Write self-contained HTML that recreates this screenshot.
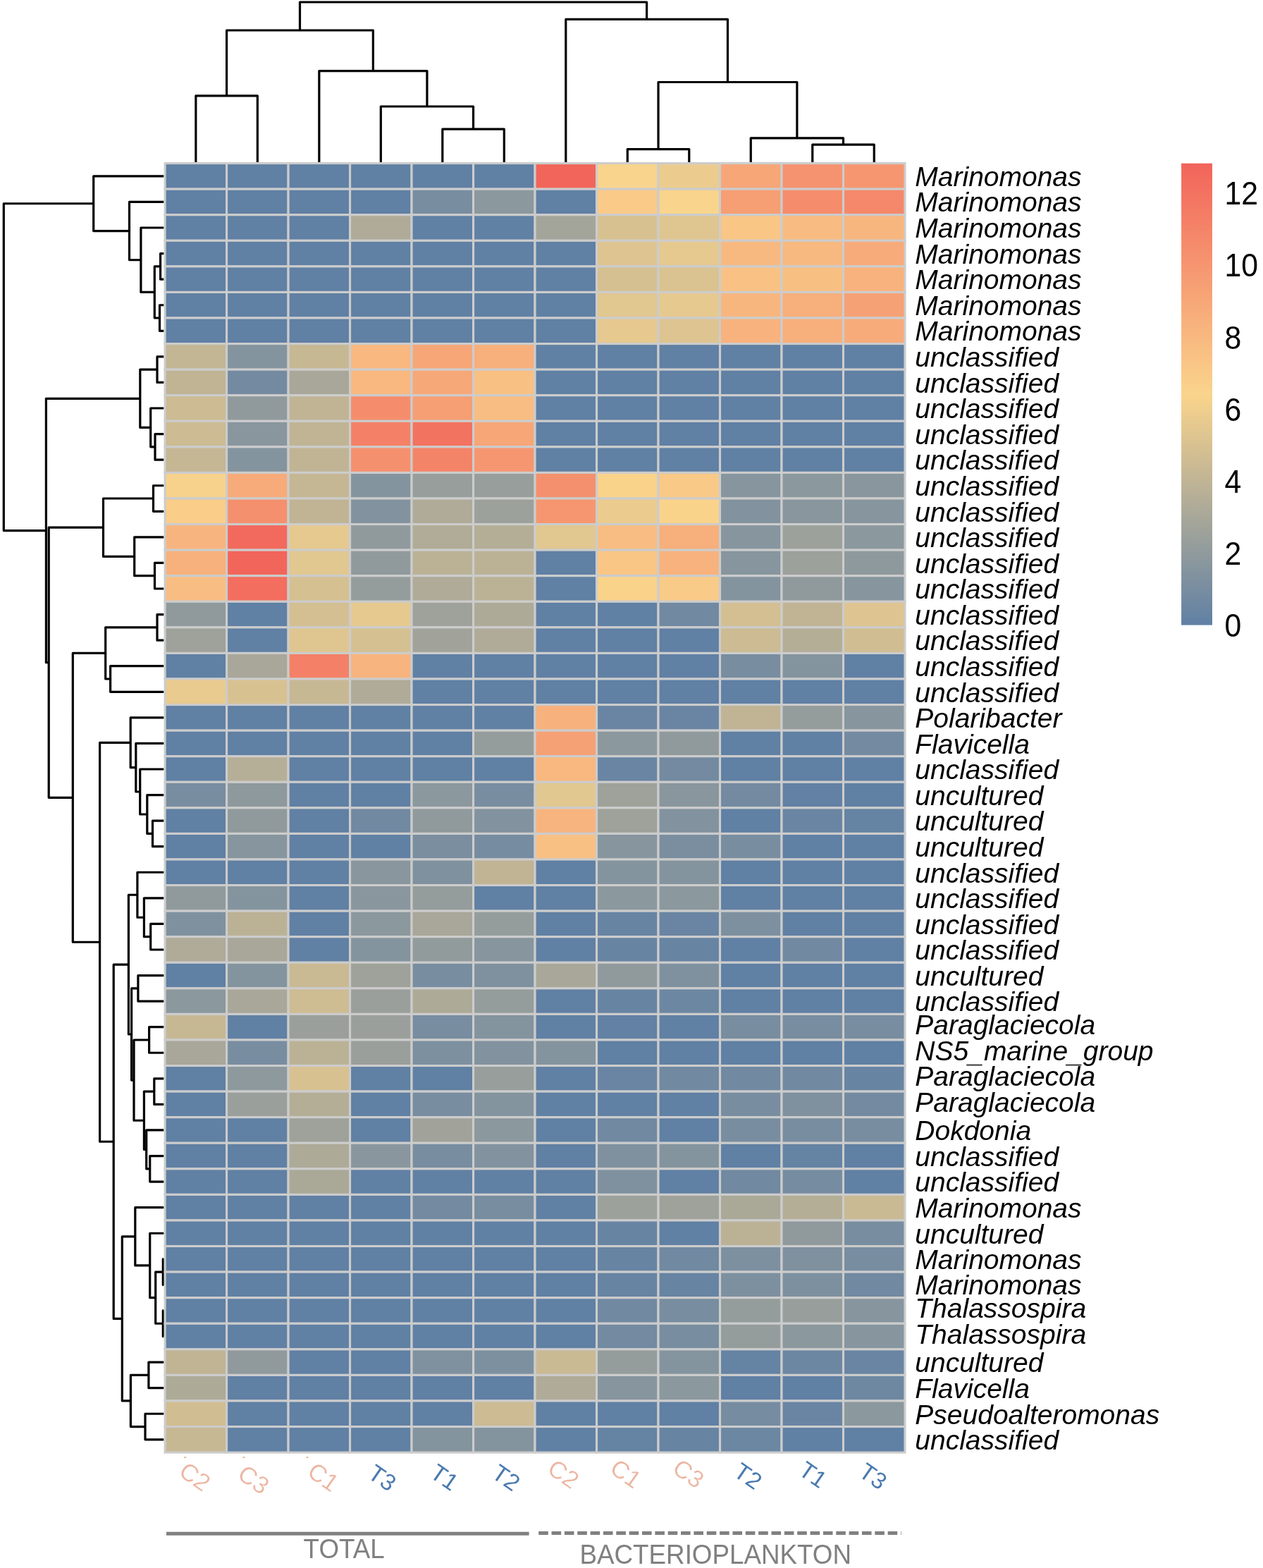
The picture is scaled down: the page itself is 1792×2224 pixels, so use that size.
<!DOCTYPE html>
<html lang="en">
<head>
<meta charset="utf-8">
<title>Heatmap</title>
<style>
html,body{margin:0;padding:0;background:#fff}
body{width:1792px;height:2224px;overflow:hidden}
svg{display:block}
text{font-family:"Liberation Sans",sans-serif}
.rl{font-style:italic;font-size:39px;fill:#000}
.lg{font-size:46px;fill:#000}
.cl{font-size:34.5px;text-anchor:middle}
.gl{font-size:38.2px;fill:#808080}
</style>
</head>
<body>
<svg width="1792" height="2224" viewBox="0 0 1792 2224">
<rect width="1792" height="2224" fill="#fff"/>
<defs><linearGradient id="cb" x1="0" y1="1" x2="0" y2="0"><stop offset="0" stop-color="#6080a4"/><stop offset="0.5" stop-color="#fad48c"/><stop offset="1" stop-color="#f2645a"/></linearGradient></defs>
<g fill="none" stroke="#000" stroke-width="3.2" stroke-linejoin="round" stroke-linecap="butt">
<path d="M277.85 230.40V135.80H365.34V230.40M627.81 230.40V183.20H715.30V230.40M540.32 230.40V151.00H671.56V183.20M452.83 230.40V100.60H605.94V151.00M321.59 135.80V43.00H529.38V100.60M890.29 230.40V211.60H977.78V230.40M1152.76 230.40V205.20H1240.25V230.40M1065.27 230.40V195.80H1196.51V205.20M934.03 211.60V116.50H1130.89V195.80M802.80 230.40V27.40H1032.46V116.50M425.49 43.00V3.00H917.63V27.40"/>
<path d="M232.40 359.60H227.60V396.16H232.40M232.40 432.74H226.50V469.31H232.40M227.60 377.88H219.30V451.02H226.50M232.40 323.02H199.90V414.45H219.30M232.40 286.45H183.50V368.74H199.90M232.40 249.88H132.70V327.60H183.50M232.40 505.88H223.00V542.45H232.40M232.40 615.59H220.00V652.15H232.40M232.40 579.01H213.70V633.87H220.00M223.00 524.16H198.80V606.44H213.70M232.40 688.73H217.50V725.29H232.40M232.40 798.44H219.50V835.00H232.40M232.40 761.87H190.70V816.72H219.50M217.50 707.01H146.50V789.29H190.70M232.40 871.58H223.00V908.14H232.40M232.40 944.72H156.60V981.29H232.40M223.00 889.86H149.70V963.00H156.60M232.40 1164.13H216.50V1200.70H232.40M232.40 1127.57H208.80V1182.42H216.50M232.40 1090.99H198.70V1154.99H208.80M232.40 1054.42H192.80V1122.99H198.70M232.40 1017.86H185.20V1088.71H192.80M232.40 1310.41H213.70V1346.98H232.40M232.40 1273.85H204.40V1328.70H213.70M232.40 1237.27H194.90V1301.27H204.40M232.40 1383.55H195.90V1420.12H232.40M232.40 1456.69H211.60V1493.26H232.40M232.40 1529.83H218.80V1566.40H232.40M232.40 1639.54H212.70V1676.12H232.40M232.40 1602.97H207.70V1657.83H212.70M218.80 1548.12H204.40V1630.40H207.70M211.60 1474.98H190.00V1589.26H204.40M195.90 1401.84H186.60V1532.12H190.00M194.90 1269.27H182.40V1466.98H186.60M232.40 1785.82H231.30V1822.39H232.40M232.40 1858.96H231.30V1895.53H232.40M231.30 1804.11H220.70V1877.25H231.30M232.40 1749.25H212.70V1840.68H220.70M232.40 1712.68H191.80V1794.97H212.70M232.40 1932.11H210.90V1968.67H232.40M232.40 2005.24H206.00V2041.81H232.40M210.90 1950.39H185.40V2023.53H206.00M191.80 1753.83H173.30V1986.96H185.40M182.40 1368.13H161.20V1870.39H173.30M185.20 1053.28H141.60V1619.26H161.20M149.70 926.43H103.30V1336.27H141.60M146.50 748.15H69.20V1131.35H103.30M198.80 565.30H65.40V939.75H69.20M132.70 288.74H5.30V752.53H65.40"/>
</g>
<g stroke="#cccccc" stroke-width="3.1">
<rect x="234.10" y="231.60" width="87.49" height="36.57" fill="#6080a4"/><rect x="321.59" y="231.60" width="87.49" height="36.57" fill="#6080a4"/><rect x="409.08" y="231.60" width="87.49" height="36.57" fill="#6080a4"/><rect x="496.58" y="231.60" width="87.49" height="36.57" fill="#6080a4"/><rect x="584.07" y="231.60" width="87.49" height="36.57" fill="#6080a4"/><rect x="671.56" y="231.60" width="87.49" height="36.57" fill="#6080a4"/><rect x="759.05" y="231.60" width="87.49" height="36.57" fill="#f2655a"/><rect x="846.54" y="231.60" width="87.49" height="36.57" fill="#f9d48c"/><rect x="934.03" y="231.60" width="87.49" height="36.57" fill="#ebcc8e"/><rect x="1021.53" y="231.60" width="87.49" height="36.57" fill="#f7a678"/><rect x="1109.02" y="231.60" width="87.49" height="36.57" fill="#f5926f"/><rect x="1196.51" y="231.60" width="87.49" height="36.57" fill="#f69670"/>
<rect x="234.10" y="268.17" width="87.49" height="36.57" fill="#6080a4"/><rect x="321.59" y="268.17" width="87.49" height="36.57" fill="#6080a4"/><rect x="409.08" y="268.17" width="87.49" height="36.57" fill="#6080a4"/><rect x="496.58" y="268.17" width="87.49" height="36.57" fill="#6080a4"/><rect x="584.07" y="268.17" width="87.49" height="36.57" fill="#788da0"/><rect x="671.56" y="268.17" width="87.49" height="36.57" fill="#8b989d"/><rect x="759.05" y="268.17" width="87.49" height="36.57" fill="#6080a4"/><rect x="846.54" y="268.17" width="87.49" height="36.57" fill="#f9ca88"/><rect x="934.03" y="268.17" width="87.49" height="36.57" fill="#f9d48c"/><rect x="1021.53" y="268.17" width="87.49" height="36.57" fill="#f69e74"/><rect x="1109.02" y="268.17" width="87.49" height="36.57" fill="#f58d6c"/><rect x="1196.51" y="268.17" width="87.49" height="36.57" fill="#f5886a"/>
<rect x="234.10" y="304.74" width="87.49" height="36.57" fill="#6080a4"/><rect x="321.59" y="304.74" width="87.49" height="36.57" fill="#6080a4"/><rect x="409.08" y="304.74" width="87.49" height="36.57" fill="#6080a4"/><rect x="496.58" y="304.74" width="87.49" height="36.57" fill="#afab98"/><rect x="584.07" y="304.74" width="87.49" height="36.57" fill="#6080a4"/><rect x="671.56" y="304.74" width="87.49" height="36.57" fill="#6080a4"/><rect x="759.05" y="304.74" width="87.49" height="36.57" fill="#a3a59a"/><rect x="846.54" y="304.74" width="87.49" height="36.57" fill="#d8c191"/><rect x="934.03" y="304.74" width="87.49" height="36.57" fill="#dfc590"/><rect x="1021.53" y="304.74" width="87.49" height="36.57" fill="#f9c686"/><rect x="1109.02" y="304.74" width="87.49" height="36.57" fill="#f8bb81"/><rect x="1196.51" y="304.74" width="87.49" height="36.57" fill="#f8b67f"/>
<rect x="234.10" y="341.31" width="87.49" height="36.57" fill="#6080a4"/><rect x="321.59" y="341.31" width="87.49" height="36.57" fill="#6080a4"/><rect x="409.08" y="341.31" width="87.49" height="36.57" fill="#6080a4"/><rect x="496.58" y="341.31" width="87.49" height="36.57" fill="#6080a4"/><rect x="584.07" y="341.31" width="87.49" height="36.57" fill="#6080a4"/><rect x="671.56" y="341.31" width="87.49" height="36.57" fill="#6080a4"/><rect x="759.05" y="341.31" width="87.49" height="36.57" fill="#6080a4"/><rect x="846.54" y="341.31" width="87.49" height="36.57" fill="#ddc491"/><rect x="934.03" y="341.31" width="87.49" height="36.57" fill="#e6c98f"/><rect x="1021.53" y="341.31" width="87.49" height="36.57" fill="#f8b980"/><rect x="1109.02" y="341.31" width="87.49" height="36.57" fill="#f8b980"/><rect x="1196.51" y="341.31" width="87.49" height="36.57" fill="#f7ab7a"/>
<rect x="234.10" y="377.88" width="87.49" height="36.57" fill="#6080a4"/><rect x="321.59" y="377.88" width="87.49" height="36.57" fill="#6080a4"/><rect x="409.08" y="377.88" width="87.49" height="36.57" fill="#6080a4"/><rect x="496.58" y="377.88" width="87.49" height="36.57" fill="#6080a4"/><rect x="584.07" y="377.88" width="87.49" height="36.57" fill="#6080a4"/><rect x="671.56" y="377.88" width="87.49" height="36.57" fill="#6080a4"/><rect x="759.05" y="377.88" width="87.49" height="36.57" fill="#6080a4"/><rect x="846.54" y="377.88" width="87.49" height="36.57" fill="#d5c092"/><rect x="934.03" y="377.88" width="87.49" height="36.57" fill="#dac391"/><rect x="1021.53" y="377.88" width="87.49" height="36.57" fill="#f9c284"/><rect x="1109.02" y="377.88" width="87.49" height="36.57" fill="#f8bf82"/><rect x="1196.51" y="377.88" width="87.49" height="36.57" fill="#f8b27d"/>
<rect x="234.10" y="414.45" width="87.49" height="36.57" fill="#6080a4"/><rect x="321.59" y="414.45" width="87.49" height="36.57" fill="#6080a4"/><rect x="409.08" y="414.45" width="87.49" height="36.57" fill="#6080a4"/><rect x="496.58" y="414.45" width="87.49" height="36.57" fill="#6080a4"/><rect x="584.07" y="414.45" width="87.49" height="36.57" fill="#6080a4"/><rect x="671.56" y="414.45" width="87.49" height="36.57" fill="#6080a4"/><rect x="759.05" y="414.45" width="87.49" height="36.57" fill="#6080a4"/><rect x="846.54" y="414.45" width="87.49" height="36.57" fill="#e1c790"/><rect x="934.03" y="414.45" width="87.49" height="36.57" fill="#e6c98f"/><rect x="1021.53" y="414.45" width="87.49" height="36.57" fill="#f8b67f"/><rect x="1109.02" y="414.45" width="87.49" height="36.57" fill="#f7af7b"/><rect x="1196.51" y="414.45" width="87.49" height="36.57" fill="#f6a175"/>
<rect x="234.10" y="451.02" width="87.49" height="36.57" fill="#6080a4"/><rect x="321.59" y="451.02" width="87.49" height="36.57" fill="#6080a4"/><rect x="409.08" y="451.02" width="87.49" height="36.57" fill="#6080a4"/><rect x="496.58" y="451.02" width="87.49" height="36.57" fill="#6080a4"/><rect x="584.07" y="451.02" width="87.49" height="36.57" fill="#6080a4"/><rect x="671.56" y="451.02" width="87.49" height="36.57" fill="#6080a4"/><rect x="759.05" y="451.02" width="87.49" height="36.57" fill="#6080a4"/><rect x="846.54" y="451.02" width="87.49" height="36.57" fill="#e6c98f"/><rect x="934.03" y="451.02" width="87.49" height="36.57" fill="#ddc491"/><rect x="1021.53" y="451.02" width="87.49" height="36.57" fill="#f8b27d"/><rect x="1109.02" y="451.02" width="87.49" height="36.57" fill="#f7af7b"/><rect x="1196.51" y="451.02" width="87.49" height="36.57" fill="#f7ab7a"/>
<rect x="234.10" y="487.59" width="87.49" height="36.57" fill="#c2b695"/><rect x="321.59" y="487.59" width="87.49" height="36.57" fill="#84949e"/><rect x="409.08" y="487.59" width="87.49" height="36.57" fill="#c7b894"/><rect x="496.58" y="487.59" width="87.49" height="36.57" fill="#f8b87f"/><rect x="584.07" y="487.59" width="87.49" height="36.57" fill="#f7a678"/><rect x="671.56" y="487.59" width="87.49" height="36.57" fill="#f7af7b"/><rect x="759.05" y="487.59" width="87.49" height="36.57" fill="#6080a4"/><rect x="846.54" y="487.59" width="87.49" height="36.57" fill="#6080a4"/><rect x="934.03" y="487.59" width="87.49" height="36.57" fill="#6080a4"/><rect x="1021.53" y="487.59" width="87.49" height="36.57" fill="#6080a4"/><rect x="1109.02" y="487.59" width="87.49" height="36.57" fill="#6080a4"/><rect x="1196.51" y="487.59" width="87.49" height="36.57" fill="#6080a4"/>
<rect x="234.10" y="524.16" width="87.49" height="36.57" fill="#c0b495"/><rect x="321.59" y="524.16" width="87.49" height="36.57" fill="#738aa1"/><rect x="409.08" y="524.16" width="87.49" height="36.57" fill="#a8a799"/><rect x="496.58" y="524.16" width="87.49" height="36.57" fill="#f8b87f"/><rect x="584.07" y="524.16" width="87.49" height="36.57" fill="#f7a878"/><rect x="671.56" y="524.16" width="87.49" height="36.57" fill="#f9c083"/><rect x="759.05" y="524.16" width="87.49" height="36.57" fill="#6080a4"/><rect x="846.54" y="524.16" width="87.49" height="36.57" fill="#6080a4"/><rect x="934.03" y="524.16" width="87.49" height="36.57" fill="#6080a4"/><rect x="1021.53" y="524.16" width="87.49" height="36.57" fill="#6080a4"/><rect x="1109.02" y="524.16" width="87.49" height="36.57" fill="#6080a4"/><rect x="1196.51" y="524.16" width="87.49" height="36.57" fill="#6080a4"/>
<rect x="234.10" y="560.73" width="87.49" height="36.57" fill="#ccbb93"/><rect x="321.59" y="560.73" width="87.49" height="36.57" fill="#909a9d"/><rect x="409.08" y="560.73" width="87.49" height="36.57" fill="#c0b495"/><rect x="496.58" y="560.73" width="87.49" height="36.57" fill="#f58d6c"/><rect x="584.07" y="560.73" width="87.49" height="36.57" fill="#f69e74"/><rect x="671.56" y="560.73" width="87.49" height="36.57" fill="#f8bd82"/><rect x="759.05" y="560.73" width="87.49" height="36.57" fill="#6080a4"/><rect x="846.54" y="560.73" width="87.49" height="36.57" fill="#6080a4"/><rect x="934.03" y="560.73" width="87.49" height="36.57" fill="#6080a4"/><rect x="1021.53" y="560.73" width="87.49" height="36.57" fill="#6080a4"/><rect x="1109.02" y="560.73" width="87.49" height="36.57" fill="#6080a4"/><rect x="1196.51" y="560.73" width="87.49" height="36.57" fill="#6080a4"/>
<rect x="234.10" y="597.30" width="87.49" height="36.57" fill="#ccbb93"/><rect x="321.59" y="597.30" width="87.49" height="36.57" fill="#89969e"/><rect x="409.08" y="597.30" width="87.49" height="36.57" fill="#c0b495"/><rect x="496.58" y="597.30" width="87.49" height="36.57" fill="#f48167"/><rect x="584.07" y="597.30" width="87.49" height="36.57" fill="#f37361"/><rect x="671.56" y="597.30" width="87.49" height="36.57" fill="#f7a678"/><rect x="759.05" y="597.30" width="87.49" height="36.57" fill="#6080a4"/><rect x="846.54" y="597.30" width="87.49" height="36.57" fill="#6080a4"/><rect x="934.03" y="597.30" width="87.49" height="36.57" fill="#6080a4"/><rect x="1021.53" y="597.30" width="87.49" height="36.57" fill="#6080a4"/><rect x="1109.02" y="597.30" width="87.49" height="36.57" fill="#6080a4"/><rect x="1196.51" y="597.30" width="87.49" height="36.57" fill="#6080a4"/>
<rect x="234.10" y="633.87" width="87.49" height="36.57" fill="#c5b794"/><rect x="321.59" y="633.87" width="87.49" height="36.57" fill="#84949e"/><rect x="409.08" y="633.87" width="87.49" height="36.57" fill="#c0b495"/><rect x="496.58" y="633.87" width="87.49" height="36.57" fill="#f5906e"/><rect x="584.07" y="633.87" width="87.49" height="36.57" fill="#f48468"/><rect x="671.56" y="633.87" width="87.49" height="36.57" fill="#f69670"/><rect x="759.05" y="633.87" width="87.49" height="36.57" fill="#6080a4"/><rect x="846.54" y="633.87" width="87.49" height="36.57" fill="#6080a4"/><rect x="934.03" y="633.87" width="87.49" height="36.57" fill="#6080a4"/><rect x="1021.53" y="633.87" width="87.49" height="36.57" fill="#6080a4"/><rect x="1109.02" y="633.87" width="87.49" height="36.57" fill="#6080a4"/><rect x="1196.51" y="633.87" width="87.49" height="36.57" fill="#6080a4"/>
<rect x="234.10" y="670.44" width="87.49" height="36.57" fill="#f7d28c"/><rect x="321.59" y="670.44" width="87.49" height="36.57" fill="#f7ab7a"/><rect x="409.08" y="670.44" width="87.49" height="36.57" fill="#c5b794"/><rect x="496.58" y="670.44" width="87.49" height="36.57" fill="#84949e"/><rect x="584.07" y="670.44" width="87.49" height="36.57" fill="#979e9b"/><rect x="671.56" y="670.44" width="87.49" height="36.57" fill="#979e9b"/><rect x="759.05" y="670.44" width="87.49" height="36.57" fill="#f5906e"/><rect x="846.54" y="670.44" width="87.49" height="36.57" fill="#fad38b"/><rect x="934.03" y="670.44" width="87.49" height="36.57" fill="#f9c987"/><rect x="1021.53" y="670.44" width="87.49" height="36.57" fill="#86959e"/><rect x="1109.02" y="670.44" width="87.49" height="36.57" fill="#8b989d"/><rect x="1196.51" y="670.44" width="87.49" height="36.57" fill="#89969e"/>
<rect x="234.10" y="707.01" width="87.49" height="36.57" fill="#facd89"/><rect x="321.59" y="707.01" width="87.49" height="36.57" fill="#f5906e"/><rect x="409.08" y="707.01" width="87.49" height="36.57" fill="#c0b495"/><rect x="496.58" y="707.01" width="87.49" height="36.57" fill="#82929f"/><rect x="584.07" y="707.01" width="87.49" height="36.57" fill="#afab98"/><rect x="671.56" y="707.01" width="87.49" height="36.57" fill="#9ca19b"/><rect x="759.05" y="707.01" width="87.49" height="36.57" fill="#f69670"/><rect x="846.54" y="707.01" width="87.49" height="36.57" fill="#ebcc8e"/><rect x="934.03" y="707.01" width="87.49" height="36.57" fill="#fad38b"/><rect x="1021.53" y="707.01" width="87.49" height="36.57" fill="#82929f"/><rect x="1109.02" y="707.01" width="87.49" height="36.57" fill="#89969e"/><rect x="1196.51" y="707.01" width="87.49" height="36.57" fill="#86959e"/>
<rect x="234.10" y="743.58" width="87.49" height="36.57" fill="#f8b47e"/><rect x="321.59" y="743.58" width="87.49" height="36.57" fill="#f26a5d"/><rect x="409.08" y="743.58" width="87.49" height="36.57" fill="#e6c98f"/><rect x="496.58" y="743.58" width="87.49" height="36.57" fill="#909a9d"/><rect x="584.07" y="743.58" width="87.49" height="36.57" fill="#b1ac97"/><rect x="671.56" y="743.58" width="87.49" height="36.57" fill="#b4ae97"/><rect x="759.05" y="743.58" width="87.49" height="36.57" fill="#e1c790"/><rect x="846.54" y="743.58" width="87.49" height="36.57" fill="#f8bd82"/><rect x="934.03" y="743.58" width="87.49" height="36.57" fill="#f7af7b"/><rect x="1021.53" y="743.58" width="87.49" height="36.57" fill="#86959e"/><rect x="1109.02" y="743.58" width="87.49" height="36.57" fill="#9ca19b"/><rect x="1196.51" y="743.58" width="87.49" height="36.57" fill="#8b989d"/>
<rect x="234.10" y="780.15" width="87.49" height="36.57" fill="#f7b17c"/><rect x="321.59" y="780.15" width="87.49" height="36.57" fill="#f2655a"/><rect x="409.08" y="780.15" width="87.49" height="36.57" fill="#e1c790"/><rect x="496.58" y="780.15" width="87.49" height="36.57" fill="#909a9d"/><rect x="584.07" y="780.15" width="87.49" height="36.57" fill="#bbb296"/><rect x="671.56" y="780.15" width="87.49" height="36.57" fill="#bbb296"/><rect x="759.05" y="780.15" width="87.49" height="36.57" fill="#6080a4"/><rect x="846.54" y="780.15" width="87.49" height="36.57" fill="#f9c686"/><rect x="934.03" y="780.15" width="87.49" height="36.57" fill="#f8b27d"/><rect x="1021.53" y="780.15" width="87.49" height="36.57" fill="#86959e"/><rect x="1109.02" y="780.15" width="87.49" height="36.57" fill="#9ca19b"/><rect x="1196.51" y="780.15" width="87.49" height="36.57" fill="#8e999d"/>
<rect x="234.10" y="816.72" width="87.49" height="36.57" fill="#f8bd82"/><rect x="321.59" y="816.72" width="87.49" height="36.57" fill="#f36e5e"/><rect x="409.08" y="816.72" width="87.49" height="36.57" fill="#d5c092"/><rect x="496.58" y="816.72" width="87.49" height="36.57" fill="#959d9c"/><rect x="584.07" y="816.72" width="87.49" height="36.57" fill="#afab98"/><rect x="671.56" y="816.72" width="87.49" height="36.57" fill="#bbb296"/><rect x="759.05" y="816.72" width="87.49" height="36.57" fill="#6080a4"/><rect x="846.54" y="816.72" width="87.49" height="36.57" fill="#fad38b"/><rect x="934.03" y="816.72" width="87.49" height="36.57" fill="#f9cb88"/><rect x="1021.53" y="816.72" width="87.49" height="36.57" fill="#84949e"/><rect x="1109.02" y="816.72" width="87.49" height="36.57" fill="#909a9d"/><rect x="1196.51" y="816.72" width="87.49" height="36.57" fill="#86959e"/>
<rect x="234.10" y="853.29" width="87.49" height="36.57" fill="#909a9d"/><rect x="321.59" y="853.29" width="87.49" height="36.57" fill="#6080a4"/><rect x="409.08" y="853.29" width="87.49" height="36.57" fill="#d3bf92"/><rect x="496.58" y="853.29" width="87.49" height="36.57" fill="#e6c98f"/><rect x="584.07" y="853.29" width="87.49" height="36.57" fill="#9ea29a"/><rect x="671.56" y="853.29" width="87.49" height="36.57" fill="#adaa98"/><rect x="759.05" y="853.29" width="87.49" height="36.57" fill="#6080a4"/><rect x="846.54" y="853.29" width="87.49" height="36.57" fill="#6080a4"/><rect x="934.03" y="853.29" width="87.49" height="36.57" fill="#7189a1"/><rect x="1021.53" y="853.29" width="87.49" height="36.57" fill="#d3bf92"/><rect x="1109.02" y="853.29" width="87.49" height="36.57" fill="#c0b495"/><rect x="1196.51" y="853.29" width="87.49" height="36.57" fill="#ddc491"/>
<rect x="234.10" y="889.86" width="87.49" height="36.57" fill="#9ea29a"/><rect x="321.59" y="889.86" width="87.49" height="36.57" fill="#6080a4"/><rect x="409.08" y="889.86" width="87.49" height="36.57" fill="#dfc590"/><rect x="496.58" y="889.86" width="87.49" height="36.57" fill="#d5c092"/><rect x="584.07" y="889.86" width="87.49" height="36.57" fill="#a1a39a"/><rect x="671.56" y="889.86" width="87.49" height="36.57" fill="#afab98"/><rect x="759.05" y="889.86" width="87.49" height="36.57" fill="#6080a4"/><rect x="846.54" y="889.86" width="87.49" height="36.57" fill="#6080a4"/><rect x="934.03" y="889.86" width="87.49" height="36.57" fill="#6080a4"/><rect x="1021.53" y="889.86" width="87.49" height="36.57" fill="#ccbb93"/><rect x="1109.02" y="889.86" width="87.49" height="36.57" fill="#b4ae97"/><rect x="1196.51" y="889.86" width="87.49" height="36.57" fill="#d1bd92"/>
<rect x="234.10" y="926.43" width="87.49" height="36.57" fill="#6080a4"/><rect x="321.59" y="926.43" width="87.49" height="36.57" fill="#a8a799"/><rect x="409.08" y="926.43" width="87.49" height="36.57" fill="#f48167"/><rect x="496.58" y="926.43" width="87.49" height="36.57" fill="#f8b47e"/><rect x="584.07" y="926.43" width="87.49" height="36.57" fill="#6080a4"/><rect x="671.56" y="926.43" width="87.49" height="36.57" fill="#6080a4"/><rect x="759.05" y="926.43" width="87.49" height="36.57" fill="#6080a4"/><rect x="846.54" y="926.43" width="87.49" height="36.57" fill="#6080a4"/><rect x="934.03" y="926.43" width="87.49" height="36.57" fill="#6080a4"/><rect x="1021.53" y="926.43" width="87.49" height="36.57" fill="#788da0"/><rect x="1109.02" y="926.43" width="87.49" height="36.57" fill="#84949e"/><rect x="1196.51" y="926.43" width="87.49" height="36.57" fill="#6080a4"/>
<rect x="234.10" y="963.00" width="87.49" height="36.57" fill="#e9cb8f"/><rect x="321.59" y="963.00" width="87.49" height="36.57" fill="#d8c191"/><rect x="409.08" y="963.00" width="87.49" height="36.57" fill="#c7b894"/><rect x="496.58" y="963.00" width="87.49" height="36.57" fill="#afab98"/><rect x="584.07" y="963.00" width="87.49" height="36.57" fill="#6080a4"/><rect x="671.56" y="963.00" width="87.49" height="36.57" fill="#6080a4"/><rect x="759.05" y="963.00" width="87.49" height="36.57" fill="#6080a4"/><rect x="846.54" y="963.00" width="87.49" height="36.57" fill="#6080a4"/><rect x="934.03" y="963.00" width="87.49" height="36.57" fill="#6080a4"/><rect x="1021.53" y="963.00" width="87.49" height="36.57" fill="#6080a4"/><rect x="1109.02" y="963.00" width="87.49" height="36.57" fill="#6080a4"/><rect x="1196.51" y="963.00" width="87.49" height="36.57" fill="#6080a4"/>
<rect x="234.10" y="999.57" width="87.49" height="36.57" fill="#6080a4"/><rect x="321.59" y="999.57" width="87.49" height="36.57" fill="#6080a4"/><rect x="409.08" y="999.57" width="87.49" height="36.57" fill="#6080a4"/><rect x="496.58" y="999.57" width="87.49" height="36.57" fill="#6080a4"/><rect x="584.07" y="999.57" width="87.49" height="36.57" fill="#6080a4"/><rect x="671.56" y="999.57" width="87.49" height="36.57" fill="#6080a4"/><rect x="759.05" y="999.57" width="87.49" height="36.57" fill="#f7b17c"/><rect x="846.54" y="999.57" width="87.49" height="36.57" fill="#6a85a3"/><rect x="934.03" y="999.57" width="87.49" height="36.57" fill="#6a85a3"/><rect x="1021.53" y="999.57" width="87.49" height="36.57" fill="#c0b495"/><rect x="1109.02" y="999.57" width="87.49" height="36.57" fill="#959d9c"/><rect x="1196.51" y="999.57" width="87.49" height="36.57" fill="#86959e"/>
<rect x="234.10" y="1036.14" width="87.49" height="36.57" fill="#6080a4"/><rect x="321.59" y="1036.14" width="87.49" height="36.57" fill="#6080a4"/><rect x="409.08" y="1036.14" width="87.49" height="36.57" fill="#6080a4"/><rect x="496.58" y="1036.14" width="87.49" height="36.57" fill="#6080a4"/><rect x="584.07" y="1036.14" width="87.49" height="36.57" fill="#6080a4"/><rect x="671.56" y="1036.14" width="87.49" height="36.57" fill="#959d9c"/><rect x="759.05" y="1036.14" width="87.49" height="36.57" fill="#f6a175"/><rect x="846.54" y="1036.14" width="87.49" height="36.57" fill="#8b989d"/><rect x="934.03" y="1036.14" width="87.49" height="36.57" fill="#909a9d"/><rect x="1021.53" y="1036.14" width="87.49" height="36.57" fill="#6080a4"/><rect x="1109.02" y="1036.14" width="87.49" height="36.57" fill="#6080a4"/><rect x="1196.51" y="1036.14" width="87.49" height="36.57" fill="#738aa1"/>
<rect x="234.10" y="1072.71" width="87.49" height="36.57" fill="#6080a4"/><rect x="321.59" y="1072.71" width="87.49" height="36.57" fill="#b6af97"/><rect x="409.08" y="1072.71" width="87.49" height="36.57" fill="#6080a4"/><rect x="496.58" y="1072.71" width="87.49" height="36.57" fill="#6080a4"/><rect x="584.07" y="1072.71" width="87.49" height="36.57" fill="#6080a4"/><rect x="671.56" y="1072.71" width="87.49" height="36.57" fill="#6080a4"/><rect x="759.05" y="1072.71" width="87.49" height="36.57" fill="#f8b87f"/><rect x="846.54" y="1072.71" width="87.49" height="36.57" fill="#6a85a3"/><rect x="934.03" y="1072.71" width="87.49" height="36.57" fill="#738aa1"/><rect x="1021.53" y="1072.71" width="87.49" height="36.57" fill="#6080a4"/><rect x="1109.02" y="1072.71" width="87.49" height="36.57" fill="#6080a4"/><rect x="1196.51" y="1072.71" width="87.49" height="36.57" fill="#6080a4"/>
<rect x="234.10" y="1109.28" width="87.49" height="36.57" fill="#788da0"/><rect x="321.59" y="1109.28" width="87.49" height="36.57" fill="#8e999d"/><rect x="409.08" y="1109.28" width="87.49" height="36.57" fill="#6080a4"/><rect x="496.58" y="1109.28" width="87.49" height="36.57" fill="#6080a4"/><rect x="584.07" y="1109.28" width="87.49" height="36.57" fill="#8b989d"/><rect x="671.56" y="1109.28" width="87.49" height="36.57" fill="#788da0"/><rect x="759.05" y="1109.28" width="87.49" height="36.57" fill="#e1c790"/><rect x="846.54" y="1109.28" width="87.49" height="36.57" fill="#9ea29a"/><rect x="934.03" y="1109.28" width="87.49" height="36.57" fill="#89969e"/><rect x="1021.53" y="1109.28" width="87.49" height="36.57" fill="#738aa1"/><rect x="1109.02" y="1109.28" width="87.49" height="36.57" fill="#6281a4"/><rect x="1196.51" y="1109.28" width="87.49" height="36.57" fill="#6080a4"/>
<rect x="234.10" y="1145.85" width="87.49" height="36.57" fill="#6080a4"/><rect x="321.59" y="1145.85" width="87.49" height="36.57" fill="#909a9d"/><rect x="409.08" y="1145.85" width="87.49" height="36.57" fill="#6080a4"/><rect x="496.58" y="1145.85" width="87.49" height="36.57" fill="#7189a1"/><rect x="584.07" y="1145.85" width="87.49" height="36.57" fill="#909a9d"/><rect x="671.56" y="1145.85" width="87.49" height="36.57" fill="#82929f"/><rect x="759.05" y="1145.85" width="87.49" height="36.57" fill="#f8b47e"/><rect x="846.54" y="1145.85" width="87.49" height="36.57" fill="#9ea29a"/><rect x="934.03" y="1145.85" width="87.49" height="36.57" fill="#82929f"/><rect x="1021.53" y="1145.85" width="87.49" height="36.57" fill="#6080a4"/><rect x="1109.02" y="1145.85" width="87.49" height="36.57" fill="#6a85a3"/><rect x="1196.51" y="1145.85" width="87.49" height="36.57" fill="#6583a3"/>
<rect x="234.10" y="1182.42" width="87.49" height="36.57" fill="#6080a4"/><rect x="321.59" y="1182.42" width="87.49" height="36.57" fill="#86959e"/><rect x="409.08" y="1182.42" width="87.49" height="36.57" fill="#6080a4"/><rect x="496.58" y="1182.42" width="87.49" height="36.57" fill="#6080a4"/><rect x="584.07" y="1182.42" width="87.49" height="36.57" fill="#7a8ea0"/><rect x="671.56" y="1182.42" width="87.49" height="36.57" fill="#768ca1"/><rect x="759.05" y="1182.42" width="87.49" height="36.57" fill="#f9c083"/><rect x="846.54" y="1182.42" width="87.49" height="36.57" fill="#86959e"/><rect x="934.03" y="1182.42" width="87.49" height="36.57" fill="#7a8ea0"/><rect x="1021.53" y="1182.42" width="87.49" height="36.57" fill="#788da0"/><rect x="1109.02" y="1182.42" width="87.49" height="36.57" fill="#6080a4"/><rect x="1196.51" y="1182.42" width="87.49" height="36.57" fill="#6080a4"/>
<rect x="234.10" y="1218.99" width="87.49" height="36.57" fill="#6080a4"/><rect x="321.59" y="1218.99" width="87.49" height="36.57" fill="#6080a4"/><rect x="409.08" y="1218.99" width="87.49" height="36.57" fill="#6080a4"/><rect x="496.58" y="1218.99" width="87.49" height="36.57" fill="#89969e"/><rect x="584.07" y="1218.99" width="87.49" height="36.57" fill="#7f919f"/><rect x="671.56" y="1218.99" width="87.49" height="36.57" fill="#c0b495"/><rect x="759.05" y="1218.99" width="87.49" height="36.57" fill="#6080a4"/><rect x="846.54" y="1218.99" width="87.49" height="36.57" fill="#84949e"/><rect x="934.03" y="1218.99" width="87.49" height="36.57" fill="#84949e"/><rect x="1021.53" y="1218.99" width="87.49" height="36.57" fill="#6080a4"/><rect x="1109.02" y="1218.99" width="87.49" height="36.57" fill="#6080a4"/><rect x="1196.51" y="1218.99" width="87.49" height="36.57" fill="#6080a4"/>
<rect x="234.10" y="1255.56" width="87.49" height="36.57" fill="#909a9d"/><rect x="321.59" y="1255.56" width="87.49" height="36.57" fill="#84949e"/><rect x="409.08" y="1255.56" width="87.49" height="36.57" fill="#6080a4"/><rect x="496.58" y="1255.56" width="87.49" height="36.57" fill="#89969e"/><rect x="584.07" y="1255.56" width="87.49" height="36.57" fill="#959d9c"/><rect x="671.56" y="1255.56" width="87.49" height="36.57" fill="#6080a4"/><rect x="759.05" y="1255.56" width="87.49" height="36.57" fill="#6080a4"/><rect x="846.54" y="1255.56" width="87.49" height="36.57" fill="#8b989d"/><rect x="934.03" y="1255.56" width="87.49" height="36.57" fill="#8b989d"/><rect x="1021.53" y="1255.56" width="87.49" height="36.57" fill="#6080a4"/><rect x="1109.02" y="1255.56" width="87.49" height="36.57" fill="#6080a4"/><rect x="1196.51" y="1255.56" width="87.49" height="36.57" fill="#6080a4"/>
<rect x="234.10" y="1292.13" width="87.49" height="36.57" fill="#7f919f"/><rect x="321.59" y="1292.13" width="87.49" height="36.57" fill="#bbb296"/><rect x="409.08" y="1292.13" width="87.49" height="36.57" fill="#6080a4"/><rect x="496.58" y="1292.13" width="87.49" height="36.57" fill="#8b989d"/><rect x="584.07" y="1292.13" width="87.49" height="36.57" fill="#a8a799"/><rect x="671.56" y="1292.13" width="87.49" height="36.57" fill="#959d9c"/><rect x="759.05" y="1292.13" width="87.49" height="36.57" fill="#6080a4"/><rect x="846.54" y="1292.13" width="87.49" height="36.57" fill="#6784a3"/><rect x="934.03" y="1292.13" width="87.49" height="36.57" fill="#6a85a3"/><rect x="1021.53" y="1292.13" width="87.49" height="36.57" fill="#7d90a0"/><rect x="1109.02" y="1292.13" width="87.49" height="36.57" fill="#6080a4"/><rect x="1196.51" y="1292.13" width="87.49" height="36.57" fill="#6080a4"/>
<rect x="234.10" y="1328.70" width="87.49" height="36.57" fill="#afab98"/><rect x="321.59" y="1328.70" width="87.49" height="36.57" fill="#a8a799"/><rect x="409.08" y="1328.70" width="87.49" height="36.57" fill="#6080a4"/><rect x="496.58" y="1328.70" width="87.49" height="36.57" fill="#84949e"/><rect x="584.07" y="1328.70" width="87.49" height="36.57" fill="#929b9c"/><rect x="671.56" y="1328.70" width="87.49" height="36.57" fill="#86959e"/><rect x="759.05" y="1328.70" width="87.49" height="36.57" fill="#6080a4"/><rect x="846.54" y="1328.70" width="87.49" height="36.57" fill="#6784a3"/><rect x="934.03" y="1328.70" width="87.49" height="36.57" fill="#6784a3"/><rect x="1021.53" y="1328.70" width="87.49" height="36.57" fill="#6080a4"/><rect x="1109.02" y="1328.70" width="87.49" height="36.57" fill="#7189a1"/><rect x="1196.51" y="1328.70" width="87.49" height="36.57" fill="#6080a4"/>
<rect x="234.10" y="1365.27" width="87.49" height="36.57" fill="#6080a4"/><rect x="321.59" y="1365.27" width="87.49" height="36.57" fill="#84949e"/><rect x="409.08" y="1365.27" width="87.49" height="36.57" fill="#c9ba94"/><rect x="496.58" y="1365.27" width="87.49" height="36.57" fill="#9ea29a"/><rect x="584.07" y="1365.27" width="87.49" height="36.57" fill="#788da0"/><rect x="671.56" y="1365.27" width="87.49" height="36.57" fill="#7f919f"/><rect x="759.05" y="1365.27" width="87.49" height="36.57" fill="#a8a799"/><rect x="846.54" y="1365.27" width="87.49" height="36.57" fill="#909a9d"/><rect x="934.03" y="1365.27" width="87.49" height="36.57" fill="#7f919f"/><rect x="1021.53" y="1365.27" width="87.49" height="36.57" fill="#6080a4"/><rect x="1109.02" y="1365.27" width="87.49" height="36.57" fill="#6080a4"/><rect x="1196.51" y="1365.27" width="87.49" height="36.57" fill="#6080a4"/>
<rect x="234.10" y="1401.84" width="87.49" height="36.57" fill="#8b989d"/><rect x="321.59" y="1401.84" width="87.49" height="36.57" fill="#a8a799"/><rect x="409.08" y="1401.84" width="87.49" height="36.57" fill="#cebc93"/><rect x="496.58" y="1401.84" width="87.49" height="36.57" fill="#9a9f9b"/><rect x="584.07" y="1401.84" width="87.49" height="36.57" fill="#adaa98"/><rect x="671.56" y="1401.84" width="87.49" height="36.57" fill="#959d9c"/><rect x="759.05" y="1401.84" width="87.49" height="36.57" fill="#6080a4"/><rect x="846.54" y="1401.84" width="87.49" height="36.57" fill="#6784a3"/><rect x="934.03" y="1401.84" width="87.49" height="36.57" fill="#6c87a2"/><rect x="1021.53" y="1401.84" width="87.49" height="36.57" fill="#6080a4"/><rect x="1109.02" y="1401.84" width="87.49" height="36.57" fill="#6080a4"/><rect x="1196.51" y="1401.84" width="87.49" height="36.57" fill="#6080a4"/>
<rect x="234.10" y="1438.41" width="87.49" height="36.57" fill="#c7b894"/><rect x="321.59" y="1438.41" width="87.49" height="36.57" fill="#6080a4"/><rect x="409.08" y="1438.41" width="87.49" height="36.57" fill="#9a9f9b"/><rect x="496.58" y="1438.41" width="87.49" height="36.57" fill="#9a9f9b"/><rect x="584.07" y="1438.41" width="87.49" height="36.57" fill="#788da0"/><rect x="671.56" y="1438.41" width="87.49" height="36.57" fill="#84949e"/><rect x="759.05" y="1438.41" width="87.49" height="36.57" fill="#6080a4"/><rect x="846.54" y="1438.41" width="87.49" height="36.57" fill="#6281a4"/><rect x="934.03" y="1438.41" width="87.49" height="36.57" fill="#6080a4"/><rect x="1021.53" y="1438.41" width="87.49" height="36.57" fill="#788da0"/><rect x="1109.02" y="1438.41" width="87.49" height="36.57" fill="#788da0"/><rect x="1196.51" y="1438.41" width="87.49" height="36.57" fill="#788da0"/>
<rect x="234.10" y="1474.98" width="87.49" height="36.57" fill="#a8a799"/><rect x="321.59" y="1474.98" width="87.49" height="36.57" fill="#788da0"/><rect x="409.08" y="1474.98" width="87.49" height="36.57" fill="#bbb296"/><rect x="496.58" y="1474.98" width="87.49" height="36.57" fill="#9a9f9b"/><rect x="584.07" y="1474.98" width="87.49" height="36.57" fill="#7d90a0"/><rect x="671.56" y="1474.98" width="87.49" height="36.57" fill="#82929f"/><rect x="759.05" y="1474.98" width="87.49" height="36.57" fill="#84949e"/><rect x="846.54" y="1474.98" width="87.49" height="36.57" fill="#6080a4"/><rect x="934.03" y="1474.98" width="87.49" height="36.57" fill="#6080a4"/><rect x="1021.53" y="1474.98" width="87.49" height="36.57" fill="#6080a4"/><rect x="1109.02" y="1474.98" width="87.49" height="36.57" fill="#6080a4"/><rect x="1196.51" y="1474.98" width="87.49" height="36.57" fill="#6080a4"/>
<rect x="234.10" y="1511.55" width="87.49" height="36.57" fill="#6080a4"/><rect x="321.59" y="1511.55" width="87.49" height="36.57" fill="#8e999d"/><rect x="409.08" y="1511.55" width="87.49" height="36.57" fill="#d8c191"/><rect x="496.58" y="1511.55" width="87.49" height="36.57" fill="#6080a4"/><rect x="584.07" y="1511.55" width="87.49" height="36.57" fill="#6080a4"/><rect x="671.56" y="1511.55" width="87.49" height="36.57" fill="#979e9b"/><rect x="759.05" y="1511.55" width="87.49" height="36.57" fill="#6080a4"/><rect x="846.54" y="1511.55" width="87.49" height="36.57" fill="#6a85a3"/><rect x="934.03" y="1511.55" width="87.49" height="36.57" fill="#7189a1"/><rect x="1021.53" y="1511.55" width="87.49" height="36.57" fill="#7189a1"/><rect x="1109.02" y="1511.55" width="87.49" height="36.57" fill="#7189a1"/><rect x="1196.51" y="1511.55" width="87.49" height="36.57" fill="#6784a3"/>
<rect x="234.10" y="1548.12" width="87.49" height="36.57" fill="#6080a4"/><rect x="321.59" y="1548.12" width="87.49" height="36.57" fill="#9a9f9b"/><rect x="409.08" y="1548.12" width="87.49" height="36.57" fill="#b4ae97"/><rect x="496.58" y="1548.12" width="87.49" height="36.57" fill="#6080a4"/><rect x="584.07" y="1548.12" width="87.49" height="36.57" fill="#788da0"/><rect x="671.56" y="1548.12" width="87.49" height="36.57" fill="#84949e"/><rect x="759.05" y="1548.12" width="87.49" height="36.57" fill="#6080a4"/><rect x="846.54" y="1548.12" width="87.49" height="36.57" fill="#6080a4"/><rect x="934.03" y="1548.12" width="87.49" height="36.57" fill="#6080a4"/><rect x="1021.53" y="1548.12" width="87.49" height="36.57" fill="#788da0"/><rect x="1109.02" y="1548.12" width="87.49" height="36.57" fill="#7f919f"/><rect x="1196.51" y="1548.12" width="87.49" height="36.57" fill="#738aa1"/>
<rect x="234.10" y="1584.69" width="87.49" height="36.57" fill="#6080a4"/><rect x="321.59" y="1584.69" width="87.49" height="36.57" fill="#6080a4"/><rect x="409.08" y="1584.69" width="87.49" height="36.57" fill="#9ea29a"/><rect x="496.58" y="1584.69" width="87.49" height="36.57" fill="#6080a4"/><rect x="584.07" y="1584.69" width="87.49" height="36.57" fill="#a1a39a"/><rect x="671.56" y="1584.69" width="87.49" height="36.57" fill="#8b989d"/><rect x="759.05" y="1584.69" width="87.49" height="36.57" fill="#6080a4"/><rect x="846.54" y="1584.69" width="87.49" height="36.57" fill="#7189a1"/><rect x="934.03" y="1584.69" width="87.49" height="36.57" fill="#6080a4"/><rect x="1021.53" y="1584.69" width="87.49" height="36.57" fill="#788da0"/><rect x="1109.02" y="1584.69" width="87.49" height="36.57" fill="#788da0"/><rect x="1196.51" y="1584.69" width="87.49" height="36.57" fill="#788da0"/>
<rect x="234.10" y="1621.26" width="87.49" height="36.57" fill="#6080a4"/><rect x="321.59" y="1621.26" width="87.49" height="36.57" fill="#6080a4"/><rect x="409.08" y="1621.26" width="87.49" height="36.57" fill="#adaa98"/><rect x="496.58" y="1621.26" width="87.49" height="36.57" fill="#89969e"/><rect x="584.07" y="1621.26" width="87.49" height="36.57" fill="#788da0"/><rect x="671.56" y="1621.26" width="87.49" height="36.57" fill="#82929f"/><rect x="759.05" y="1621.26" width="87.49" height="36.57" fill="#6080a4"/><rect x="846.54" y="1621.26" width="87.49" height="36.57" fill="#7f919f"/><rect x="934.03" y="1621.26" width="87.49" height="36.57" fill="#84949e"/><rect x="1021.53" y="1621.26" width="87.49" height="36.57" fill="#6080a4"/><rect x="1109.02" y="1621.26" width="87.49" height="36.57" fill="#6583a3"/><rect x="1196.51" y="1621.26" width="87.49" height="36.57" fill="#6080a4"/>
<rect x="234.10" y="1657.83" width="87.49" height="36.57" fill="#6080a4"/><rect x="321.59" y="1657.83" width="87.49" height="36.57" fill="#6080a4"/><rect x="409.08" y="1657.83" width="87.49" height="36.57" fill="#aaa998"/><rect x="496.58" y="1657.83" width="87.49" height="36.57" fill="#6080a4"/><rect x="584.07" y="1657.83" width="87.49" height="36.57" fill="#6080a4"/><rect x="671.56" y="1657.83" width="87.49" height="36.57" fill="#6080a4"/><rect x="759.05" y="1657.83" width="87.49" height="36.57" fill="#6080a4"/><rect x="846.54" y="1657.83" width="87.49" height="36.57" fill="#7f919f"/><rect x="934.03" y="1657.83" width="87.49" height="36.57" fill="#6080a4"/><rect x="1021.53" y="1657.83" width="87.49" height="36.57" fill="#7189a1"/><rect x="1109.02" y="1657.83" width="87.49" height="36.57" fill="#768ca1"/><rect x="1196.51" y="1657.83" width="87.49" height="36.57" fill="#6080a4"/>
<rect x="234.10" y="1694.40" width="87.49" height="36.57" fill="#6080a4"/><rect x="321.59" y="1694.40" width="87.49" height="36.57" fill="#6080a4"/><rect x="409.08" y="1694.40" width="87.49" height="36.57" fill="#6080a4"/><rect x="496.58" y="1694.40" width="87.49" height="36.57" fill="#6080a4"/><rect x="584.07" y="1694.40" width="87.49" height="36.57" fill="#738aa1"/><rect x="671.56" y="1694.40" width="87.49" height="36.57" fill="#788da0"/><rect x="759.05" y="1694.40" width="87.49" height="36.57" fill="#6080a4"/><rect x="846.54" y="1694.40" width="87.49" height="36.57" fill="#9ca19b"/><rect x="934.03" y="1694.40" width="87.49" height="36.57" fill="#9ea29a"/><rect x="1021.53" y="1694.40" width="87.49" height="36.57" fill="#aaa998"/><rect x="1109.02" y="1694.40" width="87.49" height="36.57" fill="#b4ae97"/><rect x="1196.51" y="1694.40" width="87.49" height="36.57" fill="#c9ba94"/>
<rect x="234.10" y="1730.97" width="87.49" height="36.57" fill="#6080a4"/><rect x="321.59" y="1730.97" width="87.49" height="36.57" fill="#6080a4"/><rect x="409.08" y="1730.97" width="87.49" height="36.57" fill="#6080a4"/><rect x="496.58" y="1730.97" width="87.49" height="36.57" fill="#6080a4"/><rect x="584.07" y="1730.97" width="87.49" height="36.57" fill="#6080a4"/><rect x="671.56" y="1730.97" width="87.49" height="36.57" fill="#6080a4"/><rect x="759.05" y="1730.97" width="87.49" height="36.57" fill="#6080a4"/><rect x="846.54" y="1730.97" width="87.49" height="36.57" fill="#6784a3"/><rect x="934.03" y="1730.97" width="87.49" height="36.57" fill="#6080a4"/><rect x="1021.53" y="1730.97" width="87.49" height="36.57" fill="#bbb296"/><rect x="1109.02" y="1730.97" width="87.49" height="36.57" fill="#909a9d"/><rect x="1196.51" y="1730.97" width="87.49" height="36.57" fill="#788da0"/>
<rect x="234.10" y="1767.54" width="87.49" height="36.57" fill="#6080a4"/><rect x="321.59" y="1767.54" width="87.49" height="36.57" fill="#6080a4"/><rect x="409.08" y="1767.54" width="87.49" height="36.57" fill="#6080a4"/><rect x="496.58" y="1767.54" width="87.49" height="36.57" fill="#6080a4"/><rect x="584.07" y="1767.54" width="87.49" height="36.57" fill="#6080a4"/><rect x="671.56" y="1767.54" width="87.49" height="36.57" fill="#6080a4"/><rect x="759.05" y="1767.54" width="87.49" height="36.57" fill="#6080a4"/><rect x="846.54" y="1767.54" width="87.49" height="36.57" fill="#6784a3"/><rect x="934.03" y="1767.54" width="87.49" height="36.57" fill="#7189a1"/><rect x="1021.53" y="1767.54" width="87.49" height="36.57" fill="#7d90a0"/><rect x="1109.02" y="1767.54" width="87.49" height="36.57" fill="#7f919f"/><rect x="1196.51" y="1767.54" width="87.49" height="36.57" fill="#788da0"/>
<rect x="234.10" y="1804.11" width="87.49" height="36.57" fill="#6080a4"/><rect x="321.59" y="1804.11" width="87.49" height="36.57" fill="#6080a4"/><rect x="409.08" y="1804.11" width="87.49" height="36.57" fill="#6080a4"/><rect x="496.58" y="1804.11" width="87.49" height="36.57" fill="#6080a4"/><rect x="584.07" y="1804.11" width="87.49" height="36.57" fill="#6080a4"/><rect x="671.56" y="1804.11" width="87.49" height="36.57" fill="#6080a4"/><rect x="759.05" y="1804.11" width="87.49" height="36.57" fill="#6080a4"/><rect x="846.54" y="1804.11" width="87.49" height="36.57" fill="#6784a3"/><rect x="934.03" y="1804.11" width="87.49" height="36.57" fill="#6784a3"/><rect x="1021.53" y="1804.11" width="87.49" height="36.57" fill="#7d90a0"/><rect x="1109.02" y="1804.11" width="87.49" height="36.57" fill="#7d90a0"/><rect x="1196.51" y="1804.11" width="87.49" height="36.57" fill="#7189a1"/>
<rect x="234.10" y="1840.68" width="87.49" height="36.57" fill="#6080a4"/><rect x="321.59" y="1840.68" width="87.49" height="36.57" fill="#6080a4"/><rect x="409.08" y="1840.68" width="87.49" height="36.57" fill="#6080a4"/><rect x="496.58" y="1840.68" width="87.49" height="36.57" fill="#6080a4"/><rect x="584.07" y="1840.68" width="87.49" height="36.57" fill="#6080a4"/><rect x="671.56" y="1840.68" width="87.49" height="36.57" fill="#6080a4"/><rect x="759.05" y="1840.68" width="87.49" height="36.57" fill="#6080a4"/><rect x="846.54" y="1840.68" width="87.49" height="36.57" fill="#7189a1"/><rect x="934.03" y="1840.68" width="87.49" height="36.57" fill="#788da0"/><rect x="1021.53" y="1840.68" width="87.49" height="36.57" fill="#959d9c"/><rect x="1109.02" y="1840.68" width="87.49" height="36.57" fill="#979e9b"/><rect x="1196.51" y="1840.68" width="87.49" height="36.57" fill="#86959e"/>
<rect x="234.10" y="1877.25" width="87.49" height="36.57" fill="#6080a4"/><rect x="321.59" y="1877.25" width="87.49" height="36.57" fill="#6080a4"/><rect x="409.08" y="1877.25" width="87.49" height="36.57" fill="#6080a4"/><rect x="496.58" y="1877.25" width="87.49" height="36.57" fill="#6080a4"/><rect x="584.07" y="1877.25" width="87.49" height="36.57" fill="#6080a4"/><rect x="671.56" y="1877.25" width="87.49" height="36.57" fill="#6080a4"/><rect x="759.05" y="1877.25" width="87.49" height="36.57" fill="#6080a4"/><rect x="846.54" y="1877.25" width="87.49" height="36.57" fill="#738aa1"/><rect x="934.03" y="1877.25" width="87.49" height="36.57" fill="#788da0"/><rect x="1021.53" y="1877.25" width="87.49" height="36.57" fill="#959d9c"/><rect x="1109.02" y="1877.25" width="87.49" height="36.57" fill="#8b989d"/><rect x="1196.51" y="1877.25" width="87.49" height="36.57" fill="#86959e"/>
<rect x="234.10" y="1913.82" width="87.49" height="36.57" fill="#c0b495"/><rect x="321.59" y="1913.82" width="87.49" height="36.57" fill="#909a9d"/><rect x="409.08" y="1913.82" width="87.49" height="36.57" fill="#6080a4"/><rect x="496.58" y="1913.82" width="87.49" height="36.57" fill="#6080a4"/><rect x="584.07" y="1913.82" width="87.49" height="36.57" fill="#7f919f"/><rect x="671.56" y="1913.82" width="87.49" height="36.57" fill="#7d90a0"/><rect x="759.05" y="1913.82" width="87.49" height="36.57" fill="#c9ba94"/><rect x="846.54" y="1913.82" width="87.49" height="36.57" fill="#959d9c"/><rect x="934.03" y="1913.82" width="87.49" height="36.57" fill="#84949e"/><rect x="1021.53" y="1913.82" width="87.49" height="36.57" fill="#6583a3"/><rect x="1109.02" y="1913.82" width="87.49" height="36.57" fill="#6c87a2"/><rect x="1196.51" y="1913.82" width="87.49" height="36.57" fill="#6a85a3"/>
<rect x="234.10" y="1950.39" width="87.49" height="36.57" fill="#adaa98"/><rect x="321.59" y="1950.39" width="87.49" height="36.57" fill="#6080a4"/><rect x="409.08" y="1950.39" width="87.49" height="36.57" fill="#6080a4"/><rect x="496.58" y="1950.39" width="87.49" height="36.57" fill="#6080a4"/><rect x="584.07" y="1950.39" width="87.49" height="36.57" fill="#6080a4"/><rect x="671.56" y="1950.39" width="87.49" height="36.57" fill="#6080a4"/><rect x="759.05" y="1950.39" width="87.49" height="36.57" fill="#afab98"/><rect x="846.54" y="1950.39" width="87.49" height="36.57" fill="#86959e"/><rect x="934.03" y="1950.39" width="87.49" height="36.57" fill="#8b989d"/><rect x="1021.53" y="1950.39" width="87.49" height="36.57" fill="#6080a4"/><rect x="1109.02" y="1950.39" width="87.49" height="36.57" fill="#6080a4"/><rect x="1196.51" y="1950.39" width="87.49" height="36.57" fill="#6e88a2"/>
<rect x="234.10" y="1986.96" width="87.49" height="36.57" fill="#d1bd92"/><rect x="321.59" y="1986.96" width="87.49" height="36.57" fill="#6080a4"/><rect x="409.08" y="1986.96" width="87.49" height="36.57" fill="#6080a4"/><rect x="496.58" y="1986.96" width="87.49" height="36.57" fill="#6080a4"/><rect x="584.07" y="1986.96" width="87.49" height="36.57" fill="#6080a4"/><rect x="671.56" y="1986.96" width="87.49" height="36.57" fill="#ccbb93"/><rect x="759.05" y="1986.96" width="87.49" height="36.57" fill="#6080a4"/><rect x="846.54" y="1986.96" width="87.49" height="36.57" fill="#6080a4"/><rect x="934.03" y="1986.96" width="87.49" height="36.57" fill="#6080a4"/><rect x="1021.53" y="1986.96" width="87.49" height="36.57" fill="#768ca1"/><rect x="1109.02" y="1986.96" width="87.49" height="36.57" fill="#6a85a3"/><rect x="1196.51" y="1986.96" width="87.49" height="36.57" fill="#8b989d"/>
<rect x="234.10" y="2023.53" width="87.49" height="36.57" fill="#c7b894"/><rect x="321.59" y="2023.53" width="87.49" height="36.57" fill="#6080a4"/><rect x="409.08" y="2023.53" width="87.49" height="36.57" fill="#6080a4"/><rect x="496.58" y="2023.53" width="87.49" height="36.57" fill="#6080a4"/><rect x="584.07" y="2023.53" width="87.49" height="36.57" fill="#84949e"/><rect x="671.56" y="2023.53" width="87.49" height="36.57" fill="#84949e"/><rect x="759.05" y="2023.53" width="87.49" height="36.57" fill="#6080a4"/><rect x="846.54" y="2023.53" width="87.49" height="36.57" fill="#6583a3"/><rect x="934.03" y="2023.53" width="87.49" height="36.57" fill="#6784a3"/><rect x="1021.53" y="2023.53" width="87.49" height="36.57" fill="#6c87a2"/><rect x="1109.02" y="2023.53" width="87.49" height="36.57" fill="#6080a4"/><rect x="1196.51" y="2023.53" width="87.49" height="36.57" fill="#6080a4"/>
</g>
<g class="rl">
<text x="1298.3" y="263.78">Marinomonas</text>
<text x="1298.3" y="300.35">Marinomonas</text>
<text x="1298.3" y="336.92">Marinomonas</text>
<text x="1298.3" y="373.50">Marinomonas</text>
<text x="1298.3" y="410.06">Marinomonas</text>
<text x="1298.3" y="446.63">Marinomonas</text>
<text x="1298.3" y="483.20">Marinomonas</text>
<text x="1298.3" y="520.17">unclassified</text>
<text x="1298.3" y="556.75">unclassified</text>
<text x="1298.3" y="593.31">unclassified</text>
<text x="1298.3" y="629.88">unclassified</text>
<text x="1298.3" y="666.45">unclassified</text>
<text x="1298.3" y="703.02">unclassified</text>
<text x="1298.3" y="739.59">unclassified</text>
<text x="1298.3" y="776.16">unclassified</text>
<text x="1298.3" y="812.74">unclassified</text>
<text x="1298.3" y="849.30">unclassified</text>
<text x="1298.3" y="885.88">unclassified</text>
<text x="1298.3" y="922.44">unclassified</text>
<text x="1298.3" y="959.01">unclassified</text>
<text x="1298.3" y="995.59">unclassified</text>
<text x="1298.3" y="1032.15">Polaribacter</text>
<text x="1298.3" y="1068.72">Flavicella</text>
<text x="1298.3" y="1105.29">unclassified</text>
<text x="1298.3" y="1141.87">uncultured</text>
<text x="1298.3" y="1178.43">uncultured</text>
<text x="1298.3" y="1215.00">uncultured</text>
<text x="1298.3" y="1251.57">unclassified</text>
<text x="1298.3" y="1288.14">unclassified</text>
<text x="1298.3" y="1324.71">unclassified</text>
<text x="1298.3" y="1361.28">unclassified</text>
<text x="1298.3" y="1397.85">uncultured</text>
<text x="1298.3" y="1434.42">unclassified</text>
<text x="1298.3" y="1466.99">Paraglaciecola</text>
<text x="1298.3" y="1503.56">NS5<tspan dy="3.2">_</tspan><tspan dy="-3.2">marine</tspan><tspan dy="3.2">_</tspan><tspan dy="-3.2">group</tspan></text>
<text x="1298.3" y="1540.13">Paraglaciecola</text>
<text x="1298.3" y="1576.70">Paraglaciecola</text>
<text x="1298.3" y="1617.27">Dokdonia</text>
<text x="1298.3" y="1653.84">unclassified</text>
<text x="1298.3" y="1690.41">unclassified</text>
<text x="1298.3" y="1726.59">Marinomonas</text>
<text x="1298.3" y="1763.55">uncultured</text>
<text x="1298.3" y="1799.72">Marinomonas</text>
<text x="1298.3" y="1836.30">Marinomonas</text>
<text x="1298.3" y="1869.26">Thalassospira</text>
<text x="1298.3" y="1905.83">Thalassospira</text>
<text x="1298.3" y="1946.40">uncultured</text>
<text x="1298.3" y="1982.97">Flavicella</text>
<text x="1298.3" y="2019.54">Pseudoalteromonas</text>
<text x="1298.3" y="2056.11">unclassified</text>
</g>
<rect x="1676.1" y="231.7" width="43.9" height="654.9" fill="url(#cb)"/>
<g class="lg">
<text transform="translate(1737.55 903.00) scale(0.93 1)">0</text>
<text transform="translate(1737.55 800.88) scale(0.93 1)">2</text>
<text transform="translate(1737.55 698.76) scale(0.93 1)">4</text>
<text transform="translate(1737.55 596.64) scale(0.93 1)">6</text>
<text transform="translate(1737.55 494.52) scale(0.93 1)">8</text>
<text transform="translate(1737.55 392.40) scale(0.93 1)">10</text>
<text transform="translate(1737.55 290.28) scale(0.93 1)">12</text>
</g>
<g class="cl">
<text transform="translate(276.80 2094.10) rotate(35)" x="0" y="12.3" fill="#ecb4a0" stroke="#fff" stroke-width="0.3" style="font-size:34.5px">C2</text>
<text transform="translate(360.20 2098.15) rotate(35)" x="0" y="12.3" fill="#ecb4a0" stroke="#fff" stroke-width="0.3" style="font-size:34.5px">C3</text>
<text transform="translate(459.00 2094.45) rotate(35)" x="0" y="12.3" fill="#ecb4a0" stroke="#fff" stroke-width="0.3" style="font-size:34.5px">C1</text>
<text transform="translate(542.95 2095.45) rotate(35)" x="0" y="12.3" fill="#4a7aaf" style="font-size:33px">T3</text>
<text transform="translate(631.20 2094.65) rotate(35)" x="0" y="12.3" fill="#4a7aaf" style="font-size:33px">T1</text>
<text transform="translate(718.70 2095.15) rotate(35)" x="0" y="12.3" fill="#4a7aaf" style="font-size:33px">T2</text>
<text transform="translate(799.70 2090.30) rotate(35)" x="0" y="12.3" fill="#ecb4a0" stroke="#fff" stroke-width="0.3" style="font-size:34.5px">C2</text>
<text transform="translate(888.30 2089.80) rotate(35)" x="0" y="12.3" fill="#ecb4a0" stroke="#fff" stroke-width="0.3" style="font-size:34.5px">C1</text>
<text transform="translate(977.10 2089.85) rotate(35)" x="0" y="12.3" fill="#ecb4a0" stroke="#fff" stroke-width="0.3" style="font-size:34.5px">C3</text>
<text transform="translate(1061.95 2093.00) rotate(35)" x="0" y="12.3" fill="#4a7aaf" style="font-size:33px">T2</text>
<text transform="translate(1154.05 2091.00) rotate(35)" x="0" y="12.3" fill="#4a7aaf" style="font-size:33px">T1</text>
<text transform="translate(1239.30 2093.10) rotate(35)" x="0" y="12.3" fill="#4a7aaf" style="font-size:33px">T3</text>
</g>
<ellipse cx="262.7" cy="2067.1" rx="2" ry="0.9" fill="#d2b08c"/>
<ellipse cx="345.9" cy="2067.1" rx="2" ry="0.9" fill="#d2b08c"/>
<ellipse cx="436.0" cy="2067.1" rx="2" ry="0.9" fill="#d2b08c"/>
<path d="M236 2175.3H750.6" stroke="#808080" stroke-width="5" fill="none"/>
<path d="M764.2 2174.6H1278.7" stroke="#808080" stroke-width="5" stroke-dasharray="13.6 4.75" fill="none"/>
<g class="gl">
<text transform="translate(430.60 2209.70) scale(0.963 1)">TOTAL</text>
<text transform="translate(822.50 2218.00) scale(0.963 1)">BACTERIOPLANKTON</text>
</g>
</svg>
</body>
</html>
